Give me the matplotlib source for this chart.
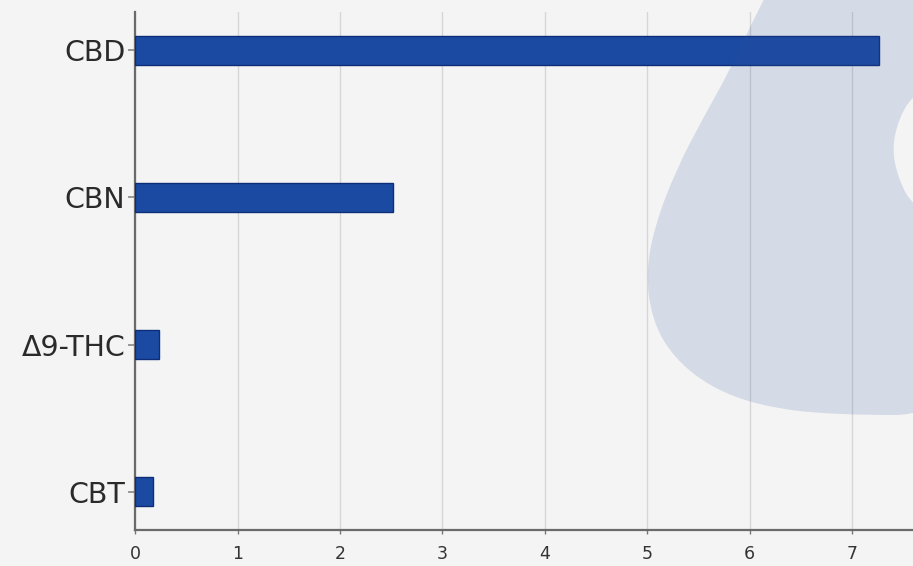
import matplotlib.pyplot as plt
import numpy as np
from matplotlib.path import Path
from matplotlib.patches import PathPatch

# data
compounds = ['CBT', 'Δ9-THC', 'CBN', 'CBD']
amounts = [0.17, 0.23, 2.52, 7.26]

fig = plt.figure(figsize=(9.13, 5.66), dpi=100, facecolor='#f4f4f4')
ax = fig.add_axes([0.148, 0.0636, 0.855, 0.915])
ax.set_facecolor('#f4f4f4')

ax.barh(compounds, amounts, height=0.2, color='#1b4aa2', edgecolor='#0e2d78', linewidth=1, zorder=3)

ax.set_xticks(np.arange(0, 8, 1))
ax.grid(axis='x', color='#d6d6d6', linewidth=1, zorder=0)
ax.grid(axis='y', visible=False)

for s in ['top', 'right']:
    ax.spines[s].set_visible(False)
ax.spines['left'].set_color('#6a6a6a')
ax.spines['left'].set_linewidth(1.6)
ax.spines['bottom'].set_color('#6a6a6a')
ax.spines['bottom'].set_linewidth(1.6)

ax.tick_params(axis='y', labelsize=20.5, labelcolor='#2a2a2a', color='#888888', length=5, width=1.2, pad=2)
ax.tick_params(axis='x', labelsize=12.5, labelcolor='#333333', color='#777777', length=3, width=1, pad=8)

# pale watermark shape (decoration), figure pixel coords, y downwards
blob = [(800, -70), (758, 10), (730, 70), (702, 120), (676, 170), (655, 225), (646, 272),
        (652, 320), (673, 357), (710, 387), (760, 406), (830, 415), (960, 415), (960, 230),
        (913, 207), (898, 178), (892, 148), (899, 118), (913, 95), (960, 60), (960, -70)]
pts = [(x / 913, 1 - y / 566) for x, y in blob]
n = len(pts)
mid = lambda a, b: ((a[0] + b[0]) / 2, (a[1] + b[1]) / 2)
verts = [mid(pts[0], pts[1])]
codes = [Path.MOVETO]
for i in range(1, n + 1):
    verts += [pts[i % n], mid(pts[i % n], pts[(i + 1) % n])]
    codes += [Path.CURVE3, Path.CURVE3]
fig.patches.append(PathPatch(Path(verts, codes), transform=fig.transFigure,
                             facecolor='#2f55a0', alpha=0.16, edgecolor='none', zorder=10))

fig.savefig('out.png', dpi=100, facecolor=fig.get_facecolor())
